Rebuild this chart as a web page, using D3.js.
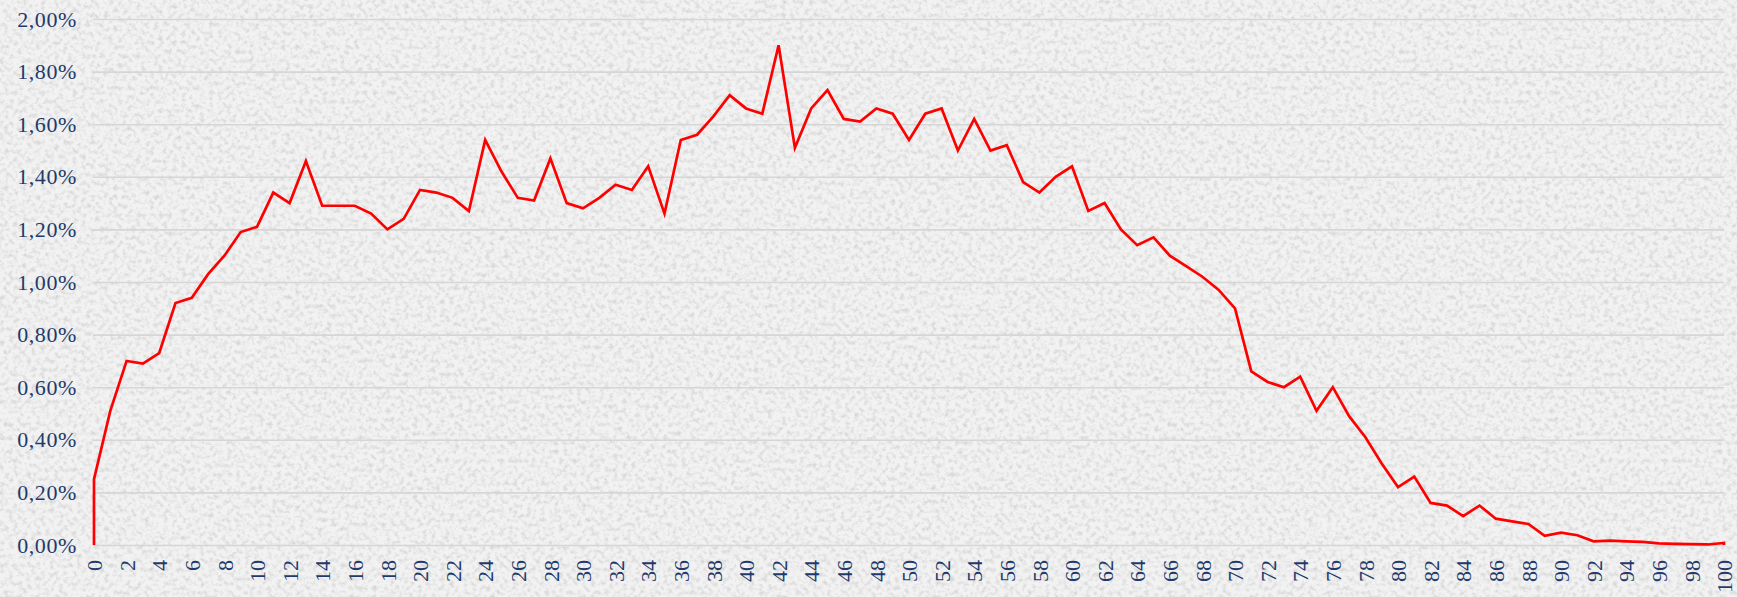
<!DOCTYPE html>
<html lang="en">
<head>
	<meta charset="utf-8">
	<script src="https://d3js.org/d3.v7.min.js"></script>
	<style>
		body { margin: 0; background: #efefef; }
		svg { display: block; }
	</style>
</head>
<body>
	<script type="text/javascript">

		var svgWidth = 1737;
		var svgHeight = 597;

		// age categories (x axis)
		var ages = [
			0, 1, 2, 3, 4, 5, 6, 7, 8, 9, 10, 11, 12, 13, 14, 15, 16, 17, 18, 19,
			20, 21, 22, 23, 24, 25, 26, 27, 28, 29, 30, 31, 32, 33, 34, 35, 36, 37, 38, 39,
			40, 41, 42, 43, 44, 45, 46, 47, 48, 49, 50, 51, 52, 53, 54, 55, 56, 57, 58, 59,
			60, 61, 62, 63, 64, 65, 66, 67, 68, 69, 70, 71, 72, 73, 74, 75, 76, 77, 78, 79,
			80, 81, 82, 83, 84, 85, 86, 87, 88, 89, 90, 91, 92, 93, 94, 95, 96, 97, 98, 99, 100
		];

		// share per age, in percent
		var shares = [
			0.25, 0.51, 0.70, 0.69, 0.73, 0.92, 0.94, 1.03, 1.10, 1.19,
			1.21, 1.34, 1.30, 1.46, 1.29, 1.29, 1.29, 1.26, 1.20, 1.24,
			1.35, 1.34, 1.32, 1.27, 1.54, 1.42, 1.32, 1.31, 1.47, 1.30,
			1.28, 1.32, 1.37, 1.35, 1.44, 1.26, 1.54, 1.56, 1.63, 1.71,
			1.66, 1.64, 1.90, 1.51, 1.66, 1.73, 1.62, 1.61, 1.66, 1.64,
			1.54, 1.64, 1.66, 1.50, 1.62, 1.50, 1.52, 1.38, 1.34, 1.40,
			1.44, 1.27, 1.30, 1.20, 1.14, 1.17, 1.10, 1.06, 1.02, 0.97,
			0.90, 0.66, 0.62, 0.60, 0.64, 0.51, 0.60, 0.49, 0.41, 0.31,
			0.22, 0.26, 0.16, 0.15, 0.11, 0.15, 0.10, 0.09, 0.08, 0.035,
			0.047, 0.037, 0.014, 0.017, 0.014, 0.012, 0.006, 0.004, 0.003, 0.002,
			0.008
		];

		// tick labels
		var yTicks = [0, 0.2, 0.4, 0.6, 0.8, 1.0, 1.2, 1.4, 1.6, 1.8, 2.0];
		var xTicks = [
			0, 2, 4, 6, 8, 10, 12, 14, 16, 18, 20, 22, 24, 26, 28, 30, 32, 34, 36, 38,
			40, 42, 44, 46, 48, 50, 52, 54, 56, 58, 60, 62, 64, 66, 68, 70, 72, 74, 76, 78,
			80, 82, 84, 86, 88, 90, 92, 94, 96, 98, 100
		];

		var plotLeft = 93;
		var plotRight = 1724;
		var plotTop = 19;
		var plotBottom = 545;
		var labelColor = "#1f3a6b";
		var labelFont = "'Liberation Serif', 'Times New Roman', serif";

		var svg = d3.select("body")
			.append("svg")
			.attr("width", svgWidth)
			.attr("height", svgHeight);

		// grainy paper background
		var defs = svg.append("defs");
		var grain = defs.append("filter")
			.attr("id", "grain")
			.attr("x", 0).attr("y", 0)
			.attr("width", "100%").attr("height", "100%");
		grain.append("feTurbulence")
			.attr("type", "fractalNoise")
			.attr("baseFrequency", "0.22")
			.attr("numOctaves", 3)
			.attr("seed", 7);
		grain.append("feColorMatrix")
			.attr("type", "matrix")
			.attr("values", "0 0 0 0 0.55  0 0 0 0 0.55  0 0 0 0 0.55  -2.4 0 0 0 1.35");

		svg.append("rect")
			.attr("width", svgWidth)
			.attr("height", svgHeight)
			.attr("fill", "#f2f2f2");
		svg.append("rect")
			.attr("width", svgWidth)
			.attr("height", svgHeight)
			.attr("filter", "url(#grain)")
			.attr("opacity", 0.6);

		var x = d3.scaleLinear()
			.domain([0, 100])
			.range([plotLeft + 1, plotRight]);

		var y = d3.scaleLinear()
			.domain([0, 2])
			.range([plotBottom, plotTop]);

		// y axis with gridlines
		var yAxis = d3.axisLeft(y)
			.tickValues(yTicks)
			.tickSize(-(plotRight - plotLeft))
			.tickPadding(16)
			.tickFormat(function(d) { return d.toFixed(2).replace(".", ",") + "%"; });

		var gy = svg.append("g")
			.attr("transform", "translate(" + plotLeft + ",0)")
			.call(yAxis);
		gy.select(".domain").remove();
		gy.selectAll(".tick line")
			.attr("stroke", "#d6d6d6")
			.attr("stroke-width", 1.6);
		gy.selectAll(".tick text")
			.attr("fill", labelColor)
			.style("font-family", labelFont)
			.style("font-size", "22px")
			.style("letter-spacing", "0.6px");

		// x axis, rotated labels
		var xAxis = d3.axisBottom(x)
			.tickValues(xTicks)
			.tickSize(0)
			.tickFormat(d3.format("d"));

		var gx = svg.append("g")
			.attr("transform", "translate(0," + plotBottom + ")")
			.call(xAxis);
		gx.select(".domain").remove();
		gx.selectAll(".tick text")
			.attr("fill", labelColor)
			.attr("transform", "rotate(-90)")
			.attr("x", -15)
			.attr("y", 0)
			.attr("dy", "0.35em")
			.style("text-anchor", "end")
			.style("font-family", labelFont)
			.style("font-size", "22px");

		// line, closed down to the baseline at both ends
		var points = ages.map(function(a, i) { return {age: a, v: shares[i]}; });
		var linePoints = [{age: ages[0], v: 0}].concat(points, [{age: ages[ages.length - 1], v: 0}]);

		var line = d3.line()
			.x(function(d) { return x(d.age); })
			.y(function(d) { return y(d.v); });

		svg.append("path")
			.datum(linePoints)
			.attr("fill", "none")
			.attr("stroke", "#ff0000")
			.attr("stroke-width", 2.7)
			.attr("stroke-linejoin", "miter")
			.attr("d", line);

	</script>
</body>
</html>
